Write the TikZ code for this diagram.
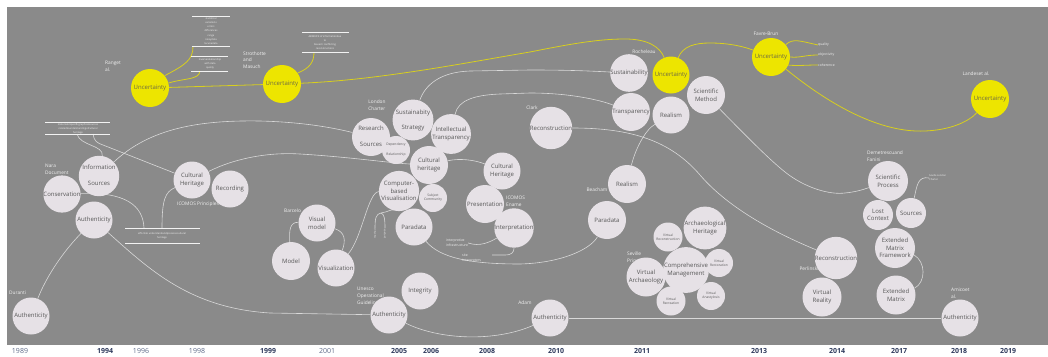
\documentclass[tikz,border=0pt]{standalone}
\usepackage{fontspec}
\setmainfont{Open Sans}
\pgfdeclarelayer{bg}
\pgfdeclarelayer{lines}
\pgfsetlayers{bg,lines,main}
\definecolor{bgray}{HTML}{8A8A8A}
\definecolor{nfill}{HTML}{E6E1E6}
\definecolor{ntext}{HTML}{575757}
\definecolor{yfill}{HTML}{EDE500}
\definecolor{ytext}{HTML}{6B6845}
\definecolor{yline}{HTML}{D8CF1E}
\definecolor{gline}{HTML}{D9D9D9}
\definecolor{lab}{HTML}{F2F2F2}
\definecolor{yrdark}{HTML}{2E3A5C}
\definecolor{yrlight}{HTML}{5E6A88}
\newcommand\mytab[2]{\raisebox{#1}{\begin{tabular}{@{}c@{}}#2\end{tabular}}}
\begin{document}
\begin{tikzpicture}[x=1pt,y=-1pt,
 bub/.style={circle,fill=nfill,text=ntext,inner sep=0pt,minimum size=#1,font=\fontsize{6}{7.5}\selectfont,align=center},
 sbub/.style={circle,fill=nfill,text=ntext,inner sep=0pt,minimum size=#1,font=\fontsize{3.3}{4.2}\selectfont,align=center},
 ybub/.style={circle,fill=yfill,text=ytext,inner sep=0pt,minimum size=#1,font=\fontsize{6}{7.5}\selectfont,align=center},
 lbl/.style={text=lab,inner sep=0pt,font=\fontsize{4.8}{6.8}\selectfont,align=left},
 slbl/.style={text=lab,inner sep=0pt,font=\fontsize{3.4}{4.8}\selectfont,align=left},
 tiny/.style={text=lab,inner sep=0pt,font=\fontsize{2.5}{4.1}\selectfont,align=center},
 con/.style={draw=gline,line width=0.6pt},
 ycon/.style={draw=yline,line width=0.8pt},
 rulel/.style={draw=lab,line width=0.35pt},
 yr/.style={font=\fontsize{7}{8}\selectfont\bfseries,text=yrdark,inner sep=0pt},
 yrl/.style={font=\fontsize{7}{8}\selectfont,text=yrlight,inner sep=0pt}]
\begin{pgfonlayer}{bg}
\fill[white] (0,0) rectangle (1048,356);
\fill[bgray] (7,7) rectangle (1048,345);
\end{pgfonlayer}
\useasboundingbox (0,0) rectangle (1048,356);

% ---------- tiny text boxes ----------
\draw[rulel] (192,16) -- (230,16); \draw[rulel] (192,46.5) -- (230,46.5);
\node[tiny] (t1) at (211,31) {statistical\\variations\\errors\\differences\\range\\noisydata\\lacunadata};
\draw[rulel] (191,56) -- (228,56); \draw[rulel] (191,71) -- (228,71);
\node[tiny] (t2) at (210,63.5) {inverserelationship\\with data\\quality};
\draw[rulel] (302,32) -- (349,32); \draw[rulel] (302,52) -- (349,52);
\node[tiny] (t3) at (325,42.5) {ABSENCE of informationdue\\to\\biased / conflicting\\reconstructions};
\draw[rulel] (45,122) -- (110,122); \draw[rulel] (45,134) -- (110,134);
\node[tiny] (t4) at (78,129) {materialorspecificgraphicalsources\\relatedtounderstandingofcultural\\heritage};
\draw[rulel] (125,228) -- (200,228); \draw[rulel] (125,243) -- (200,243);
\node[tiny] (t5) at (162,236) {effortsto understandandpreservecultural\\heritage};
\node[tiny,rotate=90] (mt) at (375,234) {method};
\node[tiny,rotate=90] (pp) at (385,234) {purpose};
\coordinate (m1) at (375,228);
\coordinate (m2) at (385,228);
\coordinate (mj) at (381,213);
\coordinate (b1) at (193,46.5);
\coordinate (b2) at (200,71);
\coordinate (b3) at (314,52);
\coordinate (tl1) at (77,134);
\coordinate (tl2) at (93,134);
\coordinate (bb1) at (144,228);
\coordinate (bb2) at (162,228);
\coordinate (si1) at (492,255);

% ---------- white labels ----------
\node[lbl,anchor=west] (lRang) at (105,66.5) {Ranget\\al.};
\node[lbl,anchor=west] (lStro) at (243,60) {Strothotte\\and\\Masuch};
\node[lbl,anchor=west] (lNara) at (45,169.5) {Nara\\Document};
\node[lbl,anchor=west] (lIcP) at (177,204) {ICOMOS Principles};
\node[lbl,anchor=west] (lDur) at (9,293) {Duranti};
\node[lbl,anchor=west] (lBar) at (284,211) {Barcelo};
\node[lbl] (lLon) at (377,105.5) {London\\Charter};
\node[lbl,anchor=west] (lIcE) at (506,201.5) {ICOMOS\\Ename};
\node[slbl,anchor=west] (lii) at (446,243) {interpretive\\infrastructure};
\node[slbl,anchor=west] (si) at (462,258) {site\\interpreters};
\node[lbl,anchor=west] (lUne) at (357,296) {Unesco\\Operational\\Guidelines};
\node[lbl] (lCla) at (532,108) {Clark};
\node[lbl] (lRoc) at (644,52) {Rocheleau};
\node[lbl] (lFav) at (766,34) {Favre-Brun};
\node[lbl] (lLan) at (976,74) {Landeset al.};
\node[lbl] (lBea) at (597,190) {Beacham};
\node[lbl] (lAda) at (525,303) {Adam};
\node[lbl,anchor=west] (lSev) at (627,257.5) {Seville\\Principles};
\node[lbl,anchor=west] (lDem) at (867,156.5) {Demetrescuand\\Fanini};
\node[lbl] (lPer) at (809,269) {Perlinski};
\node[lbl,anchor=west] (lAmi) at (951,293.5) {Amicoet\\al.};
\node[slbl,anchor=west] (Q) at (818,45) {quality};
\node[slbl,anchor=west] (O) at (818,55) {objectivity};
\node[slbl,anchor=west] (C) at (818,65) {coherence};
\node[tiny,anchor=west,align=left] (sk) at (929,178) {Seville London\\Charter};

% ---------- bubbles ----------
\node[ybub=38pt] (U1) at (150,88) {Uncertainty};
\node[ybub=38pt] (U2) at (282,84) {Uncertainty};
\node[ybub=37pt] (U3) at (671,75) {Uncertainty};
\node[ybub=38pt] (U4) at (771,57) {Uncertainty};
\node[ybub=38pt] (U5) at (990,99) {Uncertainty};

\node[bub=37pt] (Cons) at (62,194) {Conservation};
\node[bub=38pt] (Info) at (99,176) {\mytab{-5pt}{Information\\[8pt]Sources}};
\node[bub=37pt] (AN) at (94,220) {Authenticity};
\node[bub=37pt] (AD) at (31,316) {Authenticity};
\node[bub=37pt] (CH98) at (192,180) {Cultural\\Heritage};
\node[bub=37pt] (Rec) at (230,189) {Recording};
\node[bub=37pt] (VM) at (317,223) {Visual\\model};
\node[bub=38pt] (Model) at (291,261) {Model};
\node[bub=37pt] (Vis) at (336,268) {Visualization};
\node[bub=38pt] (RS) at (371,137) {\mytab{-5pt}{Research\\[8.5pt]Sources}};
\node[bub=38pt] (SS) at (413,120) {\mytab{-4.5pt}{Sustainabity\\[7.5pt]Strategy}};
\node[sbub=28pt] (DR) at (396,150) {\mytab{-3pt}{Dependency\\[6pt]Relationship}};
\node[bub=38pt] (IT) at (451,134) {Intellectual\\Transparency};
\node[bub=38pt] (CH06) at (429,165) {Cultural\\heritage};
\node[bub=38pt] (CBV) at (399,191) {Computer-\\based\\Visualisation};
\node[sbub=28pt] (SC) at (433,198) {Subject\\Community};
\node[bub=37pt] (P06) at (414,227) {Paradata};
\node[bub=37pt] (CH08) at (502,171) {Cultural\\Heritage};
\node[bub=38pt] (Pres) at (485,204) {Presentation};
\node[bub=38pt] (Interp) at (514,228) {Interpretation};
\node[bub=37pt] (Integ) at (420,291) {Integrity};
\node[bub=37pt] (A05) at (389,315) {Authenticity};
\node[bub=40pt] (RC) at (551,128) {Reconstruction};
\node[bub=37pt] (Sus11) at (629,73) {Sustainability};
\node[bub=38pt] (Tr) at (631,112) {Transparency};
\node[bub=37pt] (R11) at (671,115) {Realism};
\node[bub=38pt] (SM) at (706,95) {Scientific\\Method};
\node[bub=38pt] (R2) at (627,184) {Realism};
\node[bub=38pt] (P10) at (607,220) {Paradata};
\node[sbub=29pt] (VRc) at (668,237) {Virtual\\Reconstruction};
\node[bub=41pt] (AH) at (705,228) {Archaeological\\Heritage};
\node[sbub=28pt] (VRs) at (719,263) {Virtual\\Restoration};
\node[bub=38pt] (CM) at (686,270) {Comprehensive\\Management};
\node[bub=39pt] (VA) at (646,277) {Virtual\\Archaeology};
\node[sbub=29pt] (VRe) at (671,301) {Virtual\\Recreation};
\node[sbub=28pt] (VAn) at (711,296) {Virtual\\Anastylosis};
\node[bub=37pt] (A10) at (550,318) {Authenticity};
\node[bub=40pt] (SP) at (888,181) {Scientific\\Process};
\node[bub=30pt] (LC) at (878,215) {Lost\\Context};
\node[bub=30pt] (S17) at (911,213) {Sources};
\node[bub=40pt] (EMF) at (895,248) {Extended\\Matrix\\Framework};
\node[bub=39pt] (EM) at (896,295) {Extended\\Matrix};
\node[bub=40pt] (RC14) at (836,258) {Reconstruction};
\node[bub=39pt] (VR) at (822,297) {Virtual\\Reality};
\node[bub=37pt] (A18) at (960,318) {Authenticity};

% ---------- years ----------
\node[yrl] (y89) at (20,351) {1989};
\node[yr] (y94) at (105,351) {1994};
\node[yrl] (y96) at (141,351) {1996};
\node[yrl] (y98) at (197,351) {1998};
\node[yr] (y99) at (268,351) {1999};
\node[yrl] (y01) at (327,351) {2001};
\node[yr] (y05) at (399,351) {2005};
\node[yr] (y06) at (431,351) {2006};
\node[yr] (y08) at (487,351) {2008};
\node[yr] (y10) at (556,351) {2010};
\node[yr] (y11) at (642,351) {2011};
\node[yr] (y13) at (759,351) {2013};
\node[yr] (y14) at (837,351) {2014};
\node[yr] (y17) at (899,351) {2017};
\node[yr] (y18) at (959,351) {2018};
\node[yr] (y19) at (1008,351) {2019};

% ---------- connectors ----------
\begin{pgfonlayer}{lines}
% yellow
\draw[ycon] (U1) -- (U2);
\draw[ycon] (U2) .. controls (380,80) and (470,62) .. (530,52) .. controls (575,43) and (600,39) .. (625,39) .. controls (648,39) and (660,47) .. (U3);
\draw[ycon] (U3) .. controls (683,46) and (695,43) .. (710,43) .. controls (730,43) and (745,47) .. (U4);
\draw[ycon] (U4) .. controls (830,105) and (880,133) .. (925,131) .. controls (950,130) and (968,122) .. (U5);
\draw[ycon] (U4.40) .. controls (793,38) and (800,41) .. (Q.west);
\draw[ycon] (U4.east) .. controls (800,58) and (805,55) .. (O.west);
\draw[ycon] (U4.-25) .. controls (800,66) and (805,65) .. (C.west);
\draw[ycon] (U1.40) .. controls (185,65) and (193,60) .. (b1);
\draw[ycon] (U1.15) .. controls (185,78) and (199,80) .. (b2);
\draw[ycon] (U2.35) .. controls (310,68) and (314,62) .. (b3);
% gray
\draw[con] (Info) .. controls (150,128) and (200,120) .. (260,121) .. controls (300,122) and (330,127) .. (RS);
\draw[con] (tl1) .. controls (80,146) and (104,145) .. (Info);
\draw[con] (tl2) .. controls (94,141) and (97,143) .. (103,145) -- (CH98);
\draw[con] (CH98) .. controls (235,158) and (270,152) .. (300,154) .. controls (350,157) and (390,163) .. (CH06);
\draw[con] (Cons) .. controls (125,192) and (143,205) .. (bb1);
\draw[con] (CH98) .. controls (165,192) and (162,200) .. (bb2);
\draw[con] (AN) .. controls (60,255) and (45,280) .. (AD);
\draw[con] (AN) .. controls (150,270) and (190,308) .. (270,313) -- (A05);
\draw[con] (Model) .. controls (289,230) and (290,222) .. (VM);
\draw[con] (VM) .. controls (345,232) and (346,240) .. (Vis);
\draw[con] (Vis) .. controls (362,238) and (368,192) .. (CBV);
\draw[con] (CBV) .. controls (394,208) and (388,212) .. (mj);
\draw[con] (mj) .. controls (376,214) and (375,218) .. (m1);
\draw[con] (mj) .. controls (384,214) and (385,218) .. (m2);
\draw[con] (SS) .. controls (425,85) and (440,72) .. (470,71) -- (530,70) .. controls (570,70) and (590,71) .. (Sus11);
\draw[con] (IT) .. controls (458,100) and (475,95) .. (500,94) -- (530,93) .. controls (570,93) and (600,100) .. (Tr);
\draw[con] (CH06) .. controls (460,158) and (475,160) .. (CH08);
\draw[con] (P06) .. controls (440,258) and (470,264) .. (520,264) .. controls (560,263) and (590,250) .. (P10);
\draw[con] (lii.east) .. controls (480,247) and (490,242) .. (Interp);
\draw[con] (si1) -- (505,255) .. controls (512,255) and (514,252) .. (Interp);
\draw[con] (RC) .. controls (630,128) and (670,140) .. (700,175) .. controls (730,210) and (780,235) .. (RC14);
\draw[con] (SM) .. controls (750,140) and (770,160) .. (785,172) .. controls (805,188) and (830,195) .. (845,193) .. controls (855,192) and (862,190) .. (SP);
\draw[con] (R11) .. controls (645,130) and (635,150) .. (R2);
\draw[con] (S17) .. controls (917,185) and (918,176) .. (sk.west);
\draw[con] (EMF.-20) .. controls (926,262) and (926,282) .. (EM.20);
\draw[con] (A05) .. controls (440,340) and (495,342) .. (A10);
\draw[con] (A10) -- (A18);
\end{pgfonlayer}
\end{tikzpicture}
\end{document}
